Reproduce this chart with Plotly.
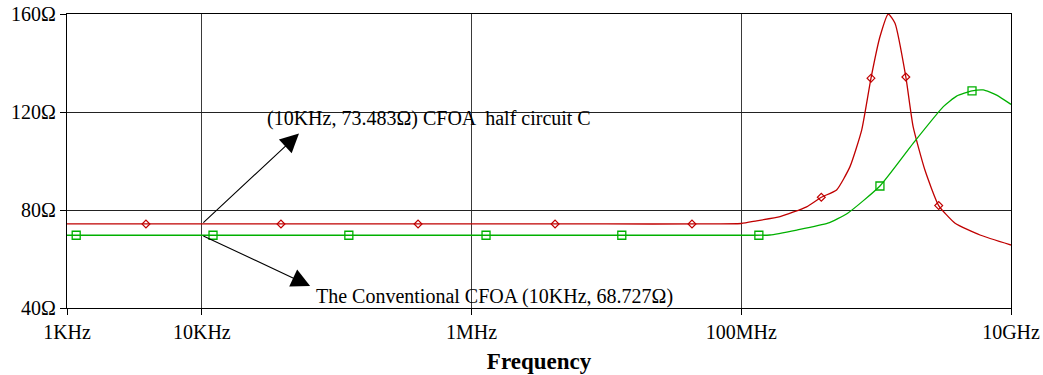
import math
import plotly.graph_objects as go

# ---- data ----
red_freq = [1e3, 1e4, 1e5, 1e6, 1e7, 5e7, 1.0e8, 1.30e8, 1.94e8, 3.05e8, 3.92e8, 5.09e8, 6.40e8,
            7.82e8, 9.16e8, 1.067e9, 1.23e9, 1.38e9, 1.66e9, 1.88e9, 2.30e9, 2.91e9, 3.85e9,
            5.89e9, 1e10]
red_ohm = [74.3, 74.3, 74.3, 74.3, 74.3, 74.3, 74.5, 75.6, 77.3, 81.3, 85.2, 88.2, 97.7,
           112.7, 133.8, 150.7, 160.0, 156.2, 134.3, 114.0, 96.3, 81.8, 74.6,
           69.8, 65.7]
red_mark_freq = [3.85e3, 3.86e4, 4.01e5, 4.16e6, 4.31e7, 3.92e8, 9.16e8, 1.66e9, 2.91e9]
red_mark_ohm = [74.3, 74.3, 74.3, 74.3, 74.3, 85.2, 133.8, 134.3, 81.8]

green_freq = [1e3, 1e4, 1e5, 1e6, 1e7, 1e8, 1.63e8, 2.58e8, 4.38e8, 6.15e8, 1.067e9, 1.88e9,
              3.15e9, 3.95e9, 5.14e9, 6.22e9, 7.83e9, 1e10]
green_ohm = [69.7, 69.7, 69.7, 69.7, 69.7, 69.7, 69.8, 71.8, 74.6, 78.7, 89.8, 107.2,
             122.2, 126.5, 128.6, 129.0, 126.9, 123.1]
green_mark_freq = [1.17e3, 1.21e4, 1.23e5, 1.28e6, 1.30e7, 1.35e8, 1.067e9, 5.14e9]
green_mark_ohm = [69.7, 69.7, 69.7, 69.7, 69.7, 69.7, 89.8, 128.6]

x_tickvals = [1e3, 1e4, 1e6, 1e8, 1e10]
x_ticktext = ["1KHz", "10KHz", "1MHz", "100MHz", "10GHz"]
y_tickvals = [40, 80, 120, 160]
y_ticktext = ["40Ω", "80Ω", "120Ω", "160Ω"]

label_red = "(10KHz, 73.483Ω) CFOA  half circuit C"
label_green = "The Conventional CFOA (10KHz, 68.727Ω)"

RED = "#C00000"
GREEN = "#00B000"
FONT = "Liberation Serif, Times New Roman, serif"

fig = go.Figure()
fig.add_trace(go.Scatter(x=red_freq, y=red_ohm, mode="lines",
                         line=dict(color=RED, width=1.3, shape="spline", smoothing=0.5),
                         showlegend=False, hoverinfo="skip"))
fig.add_trace(go.Scatter(x=green_freq, y=green_ohm, mode="lines",
                         line=dict(color=GREEN, width=1.3, shape="spline", smoothing=0.5),
                         showlegend=False, hoverinfo="skip"))
fig.add_trace(go.Scatter(x=red_mark_freq, y=red_mark_ohm, mode="markers",
                         marker=dict(symbol="diamond-open", size=6, color=RED, line=dict(width=1.2)),
                         showlegend=False))
fig.add_trace(go.Scatter(x=green_mark_freq, y=green_mark_ohm, mode="markers",
                         marker=dict(symbol="square-open", size=8, color=GREEN, line=dict(width=1.3)),
                         showlegend=False))

# arrows
fig.add_annotation(x=math.log10(5.25e4), y=111.2, ax=math.log10(1e4), ay=74.3,
                   xref="x", yref="y", axref="x", ayref="y", text="",
                   showarrow=True, arrowhead=2, arrowsize=3.4, arrowwidth=1.1, arrowcolor="black")
fig.add_annotation(x=math.log10(6.35e4), y=49.0, ax=math.log10(1e4), ay=69.7,
                   xref="x", yref="y", axref="x", ayref="y", text="",
                   showarrow=True, arrowhead=2, arrowsize=3.4, arrowwidth=1.1, arrowcolor="black")
# labels
fig.add_annotation(x=math.log10(2.94e4), y=117.3, xref="x", yref="y", text=label_red,
                   showarrow=False, xanchor="left", yanchor="middle",
                   font=dict(family=FONT, size=20, color="black"))
fig.add_annotation(x=math.log10(6.8e4), y=44.6, xref="x", yref="y", text=label_green,
                   showarrow=False, xanchor="left", yanchor="middle",
                   font=dict(family=FONT, size=20, color="black"))

fig.update_xaxes(type="log", range=[3, 10], tickvals=x_tickvals, ticktext=x_ticktext,
                 showgrid=True, gridcolor="#3a3a3a", gridwidth=1.3,
                 showline=True, linecolor="black", linewidth=1.2, mirror=True,
                 ticks="outside", ticklen=6, tickcolor="black", zeroline=False,
                 automargin=False,
                 tickfont=dict(family=FONT, size=20, color="black"),
                 title=dict(text="<b>Frequency</b>", font=dict(family=FONT, size=23, color="black"),
                            standoff=10))
fig.update_yaxes(range=[40, 160], tickvals=y_tickvals, ticktext=y_ticktext,
                 showgrid=True, gridcolor="#222222", gridwidth=1.2,
                 showline=True, linecolor="black", linewidth=1.2, mirror=True,
                 ticks="outside", ticklen=6, tickcolor="black", zeroline=False,
                 automargin=False,
                 tickfont=dict(family=FONT, size=20, color="black"))

fig.update_layout(width=1043, height=375, plot_bgcolor="white", paper_bgcolor="white",
                  margin=dict(l=67, r=32, t=14, b=67), showlegend=False)

fig.write_html("out.html")
